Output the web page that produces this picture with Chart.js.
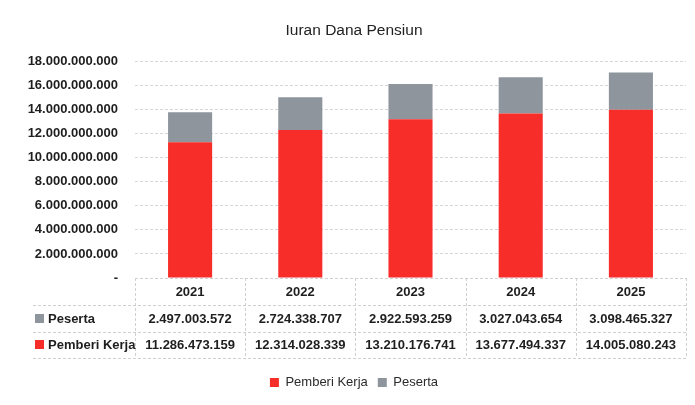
<!DOCTYPE html>
<html lang="id">
<head>
<meta charset="UTF-8">
<title>Iuran Dana Pensiun</title>
<script src="https://cdn.jsdelivr.net/npm/chart.js"></script>
<style>
  html, body { margin: 0; padding: 0; background: #ffffff; }
  #wrap { width: 695px; height: 405px; }
</style>
</head>
<body>
<div id="wrap"><canvas id="iuranChart" width="695" height="405"></canvas></div>
<script>
// data
const years = ["2021", "2022", "2023", "2024", "2025"];
const pemberiKerja = [11286473159, 12314028339, 13210176741, 13677494337, 14005080243];
const peserta = [2497003572, 2724338707, 2922593259, 3027043654, 3098465327];
const yTicks = [0, 2e9, 4e9, 6e9, 8e9, 10e9, 12e9, 14e9, 16e9, 18e9];

const RED = "#f72d2a";
const GREY = "#8e959c";
const FAMILY = "'Liberation Sans', Arial, sans-serif";
const BOLD = "bold 13px " + FAMILY;

function fmt(n) {
  return String(Math.round(n)).replace(/\B(?=(\d{3})+(?!\d))/g, ".");
}

// draws the data table under the x axis
const dataTable = {
  id: "dataTable",
  afterDraw(chart) {
    const ctx = chart.ctx;
    const x = chart.scales.x;
    const area = chart.chartArea;
    const top = area.bottom;
    const rowLines = [top + 27, top + 54, top + 80];
    const rows = [
      { label: "Peserta", color: GREY, values: peserta, y: top + 41 },
      { label: "Pemberi Kerja", color: RED, values: pemberiKerja, y: top + 67 }
    ];
    const half = (x.getPixelForValue(1) - x.getPixelForValue(0)) / 2;

    ctx.save();
    ctx.strokeStyle = "#d0d0d0";
    ctx.lineWidth = 1;
    ctx.setLineDash([3, 2]);
    ctx.beginPath();
    ctx.moveTo(area.left, top + 0.5);
    ctx.lineTo(area.right, top + 0.5);
    rowLines.forEach((ly) => {
      ctx.moveTo(33, Math.round(ly) + 0.5);
      ctx.lineTo(area.right, Math.round(ly) + 0.5);
    });
    for (let i = 0; i <= years.length; i++) {
      const vx = Math.round(x.getPixelForValue(i) - half) + 0.5;
      ctx.moveTo(vx, top);
      ctx.lineTo(vx, rowLines[2]);
    }
    ctx.stroke();
    ctx.setLineDash([]);

    ctx.font = BOLD;
    ctx.textBaseline = "middle";
    rows.forEach((r) => {
      ctx.fillStyle = r.color;
      ctx.fillRect(35, r.y - 5, 9, 9);
      ctx.fillStyle = "#1e1e1e";
      ctx.textAlign = "left";
      ctx.fillText(r.label, 48, r.y);
      ctx.textAlign = "center";
      r.values.forEach((v, i) => {
        ctx.fillText(fmt(v), x.getPixelForValue(i), r.y);
      });
    });
    ctx.restore();
  }
};

new Chart(document.getElementById("iuranChart").getContext("2d"), {
  type: "bar",
  data: {
    labels: years,
    datasets: [
      { label: "Pemberi Kerja", data: pemberiKerja, backgroundColor: RED },
      { label: "Peserta", data: peserta, backgroundColor: GREY }
    ]
  },
  options: {
    responsive: false,
    animation: false,
    layout: { padding: { left: 22, right: 9, bottom: 6, top: 0 } },
    datasets: { bar: { categoryPercentage: 1, barPercentage: 0.4 } },
    plugins: {
      title: {
        display: true,
        text: "Iuran Dana Pensiun",
        color: "#222222",
        font: { family: FAMILY, size: 15.5, weight: "normal" },
        padding: { top: 21, bottom: 22 }
      },
      legend: {
        position: "bottom",
        labels: {
          boxWidth: 9,
          boxHeight: 9,
          padding: 10,
          color: "#2b2b2b",
          font: { family: FAMILY, size: 13 }
        }
      },
      tooltip: { enabled: false }
    },
    scales: {
      x: {
        stacked: true,
        grid: { display: false, drawTicks: false },
        border: { display: false },
        ticks: {
          color: "#1e1e1e",
          padding: 7,
          font: { family: FAMILY, size: 13, weight: "bold" }
        },
        afterFit(scale) { scale.height = 88; }
      },
      y: {
        stacked: true,
        min: 0,
        max: 18e9,
        afterBuildTicks(scale) { scale.ticks = yTicks.map((v) => ({ value: v })); },
        grid: { color: "#d6d6d6", drawTicks: false },
        border: { display: false, dash: [3, 2] },
        ticks: {
          color: "#1e1e1e",
          padding: 17,
          font: { family: FAMILY, size: 13, weight: "bold" },
          callback: (v) => (v === 0 ? "-" : fmt(v))
        },
        afterFit(scale) { scale.width = 113; }
      }
    }
  },
  plugins: [dataTable]
});
</script>
</body>
</html>
